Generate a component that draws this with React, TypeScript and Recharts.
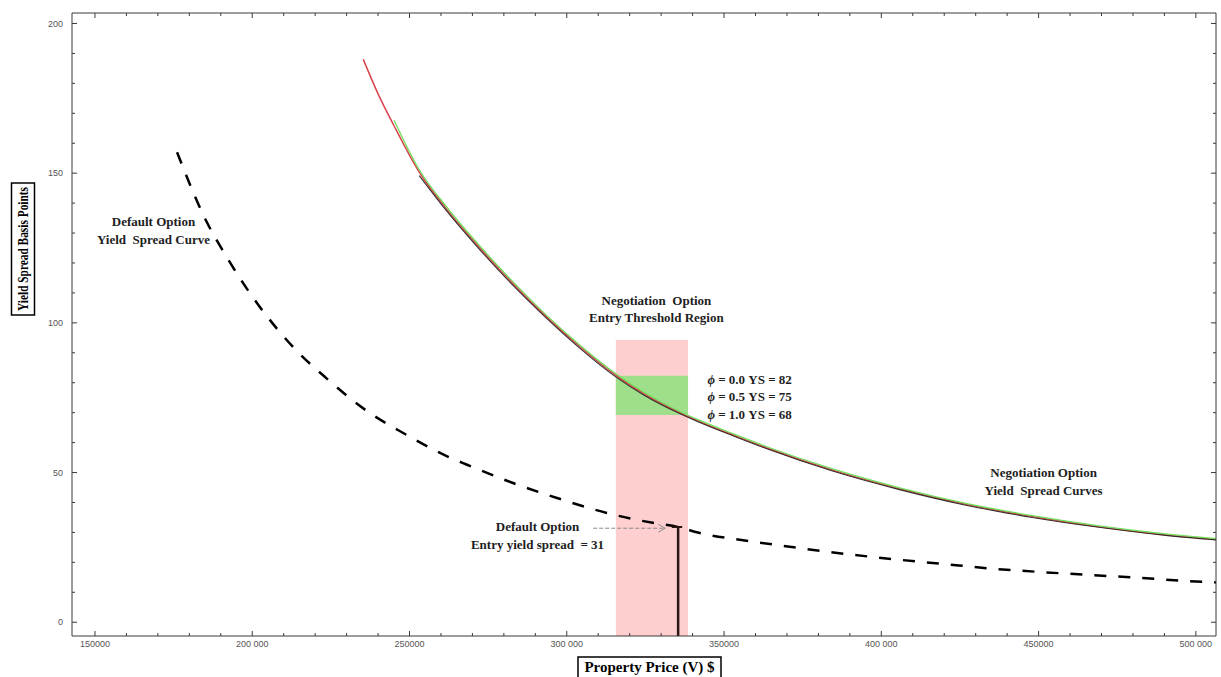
import React from 'react';
import { ComposedChart, Line, XAxis, YAxis, ReferenceArea, ReferenceLine, ReferenceDot } from 'recharts';

// ---------- data ----------
// Default option yield spread curve (dashed)
const defaultPrice = [176100, 185100, 192000, 199400, 207900, 214200, 223800, 236400, 248000, 261800, 268300, 282900, 296900, 312700, 327300, 335400, 342300, 358100, 373000, 388800, 403500, 419400, 435300, 450200, 466100, 480900, 496800, 506400];
const defaultYS = [157, 134.6, 121.8, 109.7, 98, 90.6, 81.3, 70.6, 63.2, 55.5, 52.6, 46.5, 41.5, 36.5, 33.2, 31.8, 29.8, 27.1, 24.9, 22.8, 21.1, 19.5, 17.9, 16.8, 15.8, 14.9, 13.8, 13.3];

// Negotiation option yield spread curves
const negRedPrice = [235300, 240000, 245000, 253000, 261800, 272400, 283000, 293600, 304200, 315800, 325000, 335900, 342300, 353000, 363400, 384500, 405800, 426900, 448000, 469200, 490400, 506400];
const negRedYS = [188, 176.5, 166, 150.5, 138, 125, 113, 102, 92, 82.3, 76, 70, 67, 62.5, 58.3, 50.8, 44.6, 39.4, 35.3, 31.9, 29.2, 27.6];

const negGreenPrice = [245100, 253000, 261800, 272400, 283000, 293600, 304200, 315800, 325000, 335900, 342300, 353000, 363400, 384500, 405800, 426900, 448000, 469200, 490400, 506400];
const negGreenYS = [167.7, 151.3, 138.7, 125.6, 113.6, 102.5, 92.5, 82.8, 76.5, 70.4, 67.4, 62.9, 58.7, 51.2, 44.9, 39.7, 35.6, 32.2, 29.5, 27.9];

const negDarkPrice = [253100, 261800, 272400, 283000, 293600, 304200, 315800, 325000, 335900, 342300, 353000, 363400, 384500, 405800, 426900, 448000, 469200, 490400, 506400];
const negDarkYS = [149.2, 137.4, 124.4, 112.4, 101.5, 91.5, 81.8, 75.6, 69.7, 66.7, 62.2, 58.0, 50.5, 44.3, 39.1, 35.0, 31.7, 29.0, 27.5];

// Regions
const thresholdRegionPrice = [315600, 338550];
const thresholdRegionYS = [-4.6, 94.3];
const thresholdBandYS = [69.2, 82.3];

// Default option entry marker
const entryPrice = 335400;
const entryYS = 31.8;
const entryCapPrice = [333400, 336700];
const entryArrowPrice = [308400, 331300];
const entryArrowYS = 31.4;

// Axes
const xDomain = [142700, 506400];
const yDomain = [-4.6, 203.5];
const xMajorTicks = [150000, 200000, 250000, 300000, 350000, 400000, 450000, 500000];
const xTickLabels = ['150000', '200 000', '250000', '300 000', '350000', '400 000', '450000', '500 000'];
const xMinorTicks = [160000, 170000, 180000, 190000, 210000, 220000, 230000, 240000, 260000, 270000, 280000, 290000, 310000, 320000, 330000, 340000, 360000, 370000, 380000, 390000, 410000, 420000, 430000, 440000, 460000, 470000, 480000, 490000];
const yMajorTicks = [0, 50, 100, 150, 200];
const yTickLabels = ['0', '50', '100', '150', '200'];
const yMinorTicks = [10, 20, 30, 40, 60, 70, 80, 90, 110, 120, 130, 140, 160, 170, 180, 190];

// Text
const xTitle = 'Property Price (V) $';
const yTitle = 'Yield Spread Basis Points';
const defaultCurveLabel = ['Default Option', 'Yield  Spread Curve'];
const defaultCurveLabelAt = [168600, 131];
const regionLabel = ['Negotiation  Option', 'Entry Threshold Region'];
const regionLabelAt = [328500, 104.8];
const phiValues = ['0.0', '0.5', '1.0'];
const phiYS = ['82', '75', '68'];
const phiLabelAt = [344700, 75.4];
const entryLabel = ['Default Option', 'Entry yield spread  = 31'];
const entryLabelAt = [290700, 29.1];
const curvesLabel = ['Negotiation Option', 'Yield  Spread Curves'];
const curvesLabelAt = [451600, 47.0];

// ---------- helpers ----------
const zip = (xs: number[], ys: number[]) => xs.map((v, i) => ({ v, ys: ys[i] }));
const defaultData = zip(defaultPrice, defaultYS);
const redData = zip(negRedPrice, negRedYS);
const greenData = zip(negGreenPrice, negGreenYS);
const darkData = zip(negDarkPrice, negDarkYS);
const arrowData = zip(entryArrowPrice, [entryArrowYS, entryArrowYS]);

const xTicks = [...xMajorTicks, ...xMinorTicks].sort((a, b) => a - b);
const yTicks = [...yMajorTicks, ...yMinorTicks].sort((a, b) => a - b);

const SERIF = '"Liberation Serif", "Times New Roman", serif';
const SANS = '"Liberation Sans", Arial, sans-serif';
const FRAME = '#3a3a3a';
const TXT = '#1e1e1e';
const MAJOR_LEN = 5;
const MINOR_LEN = 3;

const BottomTick = (props: any) => {
  const { x, y, payload } = props;
  const i = xMajorTicks.indexOf(payload.value);
  const len = i >= 0 ? MAJOR_LEN : MINOR_LEN;
  return (
    <g>
      <line x1={x} y1={y} x2={x} y2={y - len} stroke={FRAME} strokeWidth={1} />
      {i >= 0 && (
        <text x={x} y={y + 5} dy="0.71em" textAnchor="middle" fontSize={9} fill="#555" fontFamily={SANS}>
          {xTickLabels[i]}
        </text>
      )}
    </g>
  );
};

const LeftTick = (props: any) => {
  const { x, y, payload } = props;
  const i = yMajorTicks.indexOf(payload.value);
  const len = i >= 0 ? MAJOR_LEN : MINOR_LEN;
  return (
    <g>
      <line x1={x} y1={y} x2={x + len} y2={y} stroke={FRAME} strokeWidth={1} />
      {i >= 0 && (
        <text x={x - 9} y={y} dy="0.35em" textAnchor="end" fontSize={9} fill="#555" fontFamily={SANS}>
          {yTickLabels[i]}
        </text>
      )}
    </g>
  );
};

const TopTick = (props: any) => {
  const { x, y, payload } = props;
  const len = xMajorTicks.indexOf(payload.value) >= 0 ? MAJOR_LEN : MINOR_LEN;
  return <line x1={x} y1={y} x2={x} y2={y + len} stroke={FRAME} strokeWidth={1} />;
};

const RightTick = (props: any) => {
  const { x, y, payload } = props;
  const len = yMajorTicks.indexOf(payload.value) >= 0 ? MAJOR_LEN : MINOR_LEN;
  return <line x1={x} y1={y} x2={x - len} y2={y} stroke={FRAME} strokeWidth={1} />;
};

const MultiLine = (props: any) => {
  const { cx, cy, lines, lh = 18, size = 13, anchor = 'middle' } = props;
  if (cx == null || cy == null) return <g />;
  const n = lines.length;
  return (
    <text textAnchor={anchor} fontFamily={SERIF} fontWeight="bold" fontSize={size} fill={TXT} style={{ whiteSpace: 'pre' }}>
      {lines.map((l: string, i: number) => (
        <tspan key={i} x={cx} y={cy + (i - (n - 1) / 2) * lh + size * 0.35}>{l}</tspan>
      ))}
    </text>
  );
};

const PhiLines = (props: any) => {
  const { cx, cy } = props;
  if (cx == null || cy == null) return <g />;
  const lh = 17.5;
  const size = 13;
  return (
    <text fontFamily={SERIF} fontWeight="bold" fontSize={size} fill={TXT}>
      {phiValues.map((p, i) => (
        <tspan key={i} x={cx} y={cy + (i - 1) * lh + size * 0.35}>
          <tspan fontStyle="italic">ϕ</tspan>
          {` = ${p} YS = ${phiYS[i]}`}
        </tspan>
      ))}
    </text>
  );
};

const ArrowDot = (props: any) => {
  const { cx, cy, index } = props;
  if (index !== arrowData.length - 1 || cx == null) return <g key={`a${index}`} />;
  return <path key={`a${index}`} d={`M${cx - 7},${cy - 4} L${cx},${cy} L${cx - 7},${cy + 4}`} stroke="#8a8a8a" strokeWidth={1} fill="none" />;
};

const YTitle = (props: any) => {
  const vb = props.viewBox || { x: 0, y: 12, width: 72, height: 624 };
  const cx = vb.x + 23;
  const cy = 249;
  return (
    <g>
      <rect x={cx - 11.5} y={cy - 66} width={23} height={132} fill="#fff" stroke="#000" strokeWidth={1.5} />
      <text
        x={cx}
        y={cy}
        transform={`rotate(-90 ${cx} ${cy})`}
        textAnchor="middle"
        dominantBaseline="central"
        fontFamily={SERIF}
        fontWeight="bold"
        fontSize={15}
        fill="#000"
        textLength={124}
        lengthAdjust="spacingAndGlyphs"
      >
        {yTitle}
      </text>
    </g>
  );
};

const XTitle = (props: any) => {
  const vb = props.viewBox || { x: 72, y: 636, width: 1145, height: 41 };
  const cx = 649.5;
  const top = vb.y + 21;
  return (
    <g>
      <rect x={cx - 71.5} y={top} width={143} height={30} fill="#fff" stroke="#000" strokeWidth={1.5} />
      <text x={cx} y={top + 15} textAnchor="middle" fontFamily={SERIF} fontWeight="bold" fontSize={15} fill="#000">
        {xTitle}
      </text>
    </g>
  );
};

export default function App() {
  return (
    <div style={{ position: 'absolute', left: 0, top: 0, width: 1221, height: 677, background: '#fff' }}>
      <ComposedChart width={1221} height={677} margin={{ top: 12, right: 4, bottom: 0, left: 0 }} style={{ fontFamily: SANS }}>
        <XAxis
          xAxisId={0}
          type="number"
          dataKey="v"
          domain={xDomain}
          allowDataOverflow
          ticks={xTicks}
          interval={0}
          tick={BottomTick}
          tickLine={false}
          tickSize={0}
          tickMargin={0}
          height={41}
          stroke={FRAME}
          label={{ content: <XTitle /> }}
        />
        <XAxis
          xAxisId="top"
          orientation="top"
          type="number"
          dataKey="v"
          domain={xDomain}
          allowDataOverflow
          ticks={xTicks}
          interval={0}
          tick={TopTick}
          tickLine={false}
          tickSize={0}
          tickMargin={0}
          height={1}
          stroke={FRAME}
        />
        <YAxis
          yAxisId={0}
          type="number"
          domain={yDomain}
          allowDataOverflow
          ticks={yTicks}
          interval={0}
          tick={LeftTick}
          tickLine={false}
          tickSize={0}
          tickMargin={0}
          width={72}
          stroke={FRAME}
          label={{ content: <YTitle /> }}
        />
        <YAxis
          yAxisId="right"
          orientation="right"
          type="number"
          domain={yDomain}
          allowDataOverflow
          ticks={yTicks}
          interval={0}
          tick={RightTick}
          tickLine={false}
          tickSize={0}
          tickMargin={0}
          width={1}
          stroke={FRAME}
        />

        <ReferenceArea
          x1={thresholdRegionPrice[0]}
          x2={thresholdRegionPrice[1]}
          y1={thresholdRegionYS[0]}
          y2={thresholdRegionYS[1]}
          fill="#ffcfcf"
          fillOpacity={1}
          stroke="none"
        />
        <ReferenceArea
          x1={thresholdRegionPrice[0]}
          x2={thresholdRegionPrice[1]}
          y1={thresholdBandYS[0]}
          y2={thresholdBandYS[1]}
          fill="#9fdf8c"
          fillOpacity={1}
          stroke="none"
        />

        <Line xAxisId="top" yAxisId="right" data={defaultData} dataKey="ys" stroke="none" strokeWidth={0} dot={false} activeDot={false} isAnimationActive={false} />

        <Line data={defaultData} dataKey="ys" type="monotone" stroke="#000" strokeWidth={2.5} strokeDasharray="12 12" dot={false} activeDot={false} isAnimationActive={false} />
        <Line data={redData} dataKey="ys" type="monotone" stroke="#d8434d" strokeWidth={1.5} dot={false} activeDot={false} isAnimationActive={false} />
        <Line data={darkData} dataKey="ys" type="monotone" stroke="#3a2b2b" strokeWidth={1.1} dot={false} activeDot={false} isAnimationActive={false} />
        <Line data={greenData} dataKey="ys" type="monotone" stroke="#6fe05c" strokeWidth={1.3} dot={false} activeDot={false} isAnimationActive={false} />

        <ReferenceLine segment={[{ x: entryPrice, y: yDomain[0] }, { x: entryPrice, y: entryYS }]} stroke="#2a1515" strokeWidth={2.5} />
        <ReferenceLine segment={[{ x: entryCapPrice[0], y: entryYS }, { x: entryCapPrice[1], y: entryYS }]} stroke="#2a1515" strokeWidth={2} />
        <Line data={arrowData} dataKey="ys" type="linear" stroke="#8a8a8a" strokeWidth={1} strokeDasharray="4 2" dot={ArrowDot} activeDot={false} isAnimationActive={false} />

        <ReferenceDot x={defaultCurveLabelAt[0]} y={defaultCurveLabelAt[1]} r={0} shape={(p: any) => <MultiLine {...p} lines={defaultCurveLabel} lh={18} />} />
        <ReferenceDot x={regionLabelAt[0]} y={regionLabelAt[1]} r={0} shape={(p: any) => <MultiLine {...p} lines={regionLabel} lh={17} />} />
        <ReferenceDot x={phiLabelAt[0]} y={phiLabelAt[1]} r={0} shape={(p: any) => <PhiLines {...p} />} />
        <ReferenceDot x={entryLabelAt[0]} y={entryLabelAt[1]} r={0} shape={(p: any) => <MultiLine {...p} lines={entryLabel} lh={18} />} />
        <ReferenceDot x={curvesLabelAt[0]} y={curvesLabelAt[1]} r={0} shape={(p: any) => <MultiLine {...p} lines={curvesLabel} lh={18} />} />
      </ComposedChart>
    </div>
  );
}
